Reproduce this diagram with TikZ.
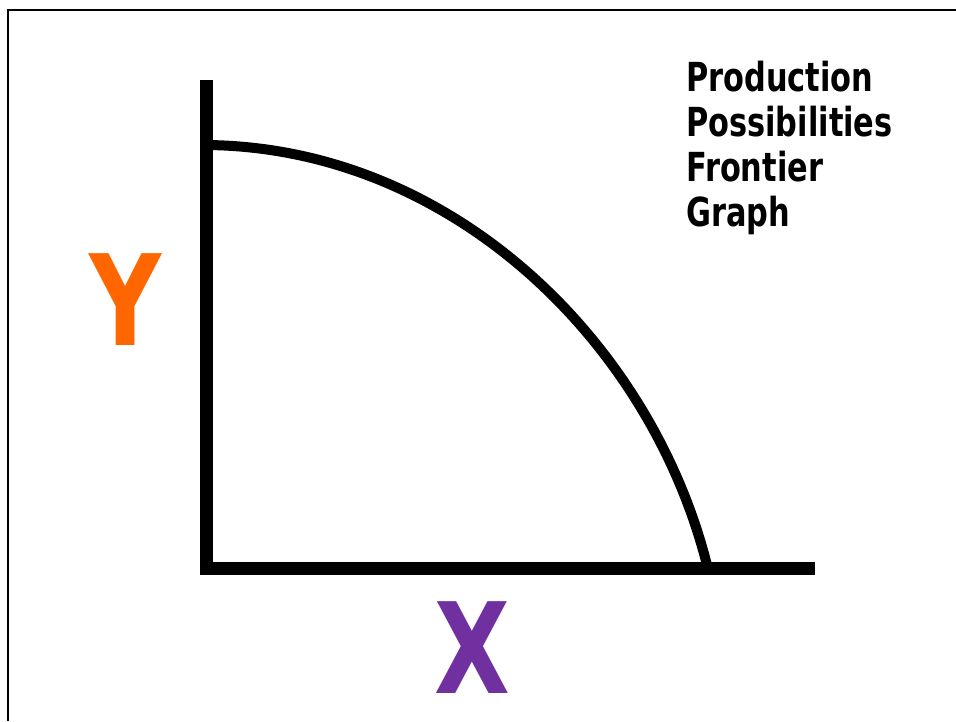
\documentclass[tikz,border=0pt]{standalone}
\usepackage{fontspec}
\setmainfont{DejaVu Sans}
\definecolor{yorange}{HTML}{FF6600}
\definecolor{xpurple}{HTML}{7030A0}
\tikzset{
  axisline/.style={line width=13pt, line join=miter, line cap=butt},
  frontier/.style={line width=10pt},
  frameline/.style={line width=2.5pt},
  titletext/.style={anchor=base west, inner sep=0pt, font=\fontsize{40}{48}\selectfont\bfseries},
  bigletter/.style={anchor=base west, inner sep=0pt, text depth=0pt, font=\fontsize{126}{130}\selectfont\bfseries}
}
\begin{document}
\begin{tikzpicture}[x=1pt,y=-1pt]
\useasboundingbox (0,0) rectangle (956,721);
% frame (cropped)
\draw[frameline] (956,10) -- (8,10) -- (8,721);
% frontier curve
\draw[frontier] (206,145) .. controls (450,147) and (650,340) .. (707,565);
% axes
\draw[axisline] (206,80) -- (206,568) -- (815,568);
% labels
\node[bigletter, text=yorange] (ylab) at (89,345) {\scalebox{0.79}[1]{Y}};
\node[bigletter, text=xpurple] (xlab) at (434,693) {\scalebox{0.78}[1]{X}};
% title
\node[titletext] (t1) at (686,91) {\scalebox{0.76}[1]{Production}};
\node[titletext] (t2) at (686,136) {\scalebox{0.76}[1]{Possibilities}};
\node[titletext] (t3) at (686,181) {\scalebox{0.76}[1]{Frontier}};
\node[titletext] (t4) at (686,226) {\scalebox{0.76}[1]{Graph}};
\end{tikzpicture}
\end{document}
